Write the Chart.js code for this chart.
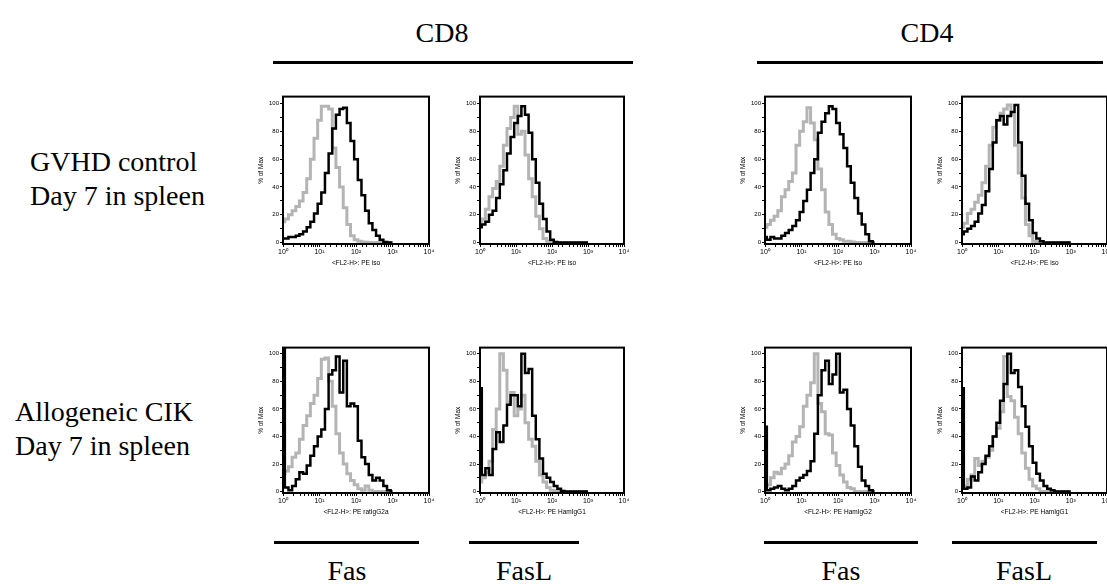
<!DOCTYPE html>
<html lang="en">
<head>
<meta charset="utf-8" />
<title>Fas / FasL on CD8 and CD4 cells</title>
<script src="https://cdn.jsdelivr.net/npm/chart.js@4/dist/chart.umd.min.js"></script>
<style>
  body { margin: 0; background: #fff; width: 1107px; height: 584px; overflow: hidden; position: relative;
         font-family: "Liberation Serif", "Times New Roman", serif; color: #000; }
  .lbl { position: absolute; font-size: 28px; line-height: 30px; white-space: nowrap; }
  .mid { transform: translateX(-50%); text-align: center; }
  .bar { position: absolute; height: 3px; background: #000; }
  canvas { position: absolute; }
</style>
</head>
<body>
  <div class="lbl mid" style="left:442px; top:18px">CD8</div>
  <div class="lbl mid" style="left:927px; top:18px">CD4</div>
  <div class="bar" style="left:273px; top:61px; width:360px"></div>
  <div class="bar" style="left:757px; top:61px; width:346px"></div>

  <div class="lbl" style="left:30px; top:145px; line-height:34px">GVHD control<br>Day 7 in spleen</div>
  <div class="lbl" style="left:15px; top:395px; line-height:34px">Allogeneic CIK<br>Day 7 in spleen</div>

  <div class="bar" style="left:274px; top:541px; width:145px"></div>
  <div class="bar" style="left:469px; top:541px; width:110px"></div>
  <div class="bar" style="left:764px; top:541px; width:154px"></div>
  <div class="bar" style="left:952px; top:541px; width:145px"></div>
  <div class="lbl mid" style="left:347px; top:556px">Fas</div>
  <div class="lbl mid" style="left:524px; top:556px">FasL</div>
  <div class="lbl mid" style="left:841px; top:556px">Fas</div>
  <div class="lbl mid" style="left:1024px; top:556px">FasL</div>

<script>
// fluorescence channel (FL2-H), 10 bins per decade
const binX = [1, 1.26, 1.58, 2, 2.51, 3.16, 3.98, 5.01, 6.31, 7.94,
  10, 12.6, 15.8, 20, 25.1, 31.6, 39.8, 50.1, 63.1, 79.4,
  100, 126, 158, 200, 251, 316, 398, 501, 631, 794, 1000]

// GVHD control, day 7 (gray = isotype, black = stain), % of max
const cd8FasCtrlIso  = [15, 17, 20, 23, 26, 30, 36, 46, 60, 75, 88, 98, 98, 96, 68, 54, 40, 25, 13, 5, 2, 1, 0.5, 0.3, 0, 0, 0, 0, 0, 0, 0]
const cd8FasCtrl     = [3, 3, 4, 4, 5, 6, 8, 11, 15, 21, 28, 36, 50, 64, 82, 92, 96, 97, 86, 73, 60, 45, 34, 23, 14, 9, 5, 2, 0.5, 0, 0]
const cd8FaslCtrlIso = [15, 17, 24, 33, 39, 44, 55, 70, 82, 90, 98, 78, 80, 63, 46, 33, 19, 10, 3, 1, 0, 0, 0, 0, 0, 0, 0, 0, 0, 0, 0]
const cd8FaslCtrl    = [11, 13, 15, 20, 23, 32, 42, 52, 64, 76, 86, 91, 98, 92, 79, 60, 43, 28, 17, 8, 2, 0.5, 0, 0, 0, 0, 0, 0, 0, 0, 0]
const cd4FasCtrlIso  = [11, 13, 16, 19, 23, 33, 38, 44, 50, 70, 80, 87, 97, 86, 74, 53, 38, 22, 13, 6, 3, 2, 1, 1, 0.5, 0, 0, 0, 0, 0, 0]
const cd4FasCtrl     = [4, 2, 4, 3, 3, 5, 7, 9, 12, 16, 22, 30, 38, 50, 60, 79, 87, 93, 98, 96, 86, 78, 68, 55, 43, 32, 21, 13, 6, 1, 0]
const cd4FaslCtrlIso = [11, 14, 21, 24, 29, 34, 43, 55, 70, 83, 88, 93, 96, 99, 92, 70, 50, 32, 13, 5, 1, 0, 0, 0, 0, 0, 0, 0, 0, 0, 0]
const cd4FaslCtrl    = [6, 8, 10, 12, 15, 21, 27, 37, 53, 72, 88, 91, 85, 91, 94, 99, 72, 48, 28, 16, 7, 3, 1, 0, 0, 0, 0, 0, 0, 0, 0]

// allogeneic CIK, day 7
const cd8FasCikIso  = [13, 15, 18, 25, 28, 38, 48, 55, 64, 70, 82, 96, 97, 80, 62, 42, 28, 20, 13, 8, 5, 2, 1, 4, 1, 0, 0, 0, 0, 0, 0]
const cd8FasCik     = [105, 3, 1, 4, 9, 14, 13, 19, 26, 33, 40, 45, 60, 85, 88, 98, 72, 95, 62, 64, 62, 37, 25, 20, 12, 8, 10, 8, 4, 1, 0]
const cd8FaslCikIso = [7, 10, 14, 22, 45, 60, 100, 88, 65, 72, 55, 60, 70, 50, 38, 33, 22, 12, 7, 3, 1, 0.5, 0, 0, 0, 0, 0, 0, 0, 0, 0]
const cd8FaslCik    = [75, 12, 17, 12, 31, 43, 36, 48, 63, 70, 70, 62, 100, 86, 89, 55, 38, 24, 13, 10, 7, 4, 2, 0.5, 0, 0, 0, 0, 0, 0, 0]
const cd4FasCikIso  = [4, 5, 10, 14, 13, 17, 20, 26, 36, 40, 47, 62, 70, 79, 100, 64, 58, 42, 41, 28, 19, 12, 7, 3, 2, 0, 0, 0, 0, 0, 0]
const cd4FasCik     = [47, 1, 2, 3, 4, 2, 1, 2, 4, 8, 10, 12, 15, 22, 42, 70, 88, 95, 78, 85, 100, 72, 74, 60, 48, 33, 18, 8, 4, 1, 0]
const cd4FaslCikIso = [4, 4, 9, 12, 24, 19, 22, 25, 30, 40, 46, 58, 98, 69, 66, 54, 42, 28, 17, 9, 4, 2, 0, 0, 0, 0, 0, 0, 0, 0, 0]
const cd4FaslCik    = [75, 2, 3, 11, 8, 14, 20, 26, 33, 40, 50, 66, 78, 100, 86, 88, 76, 62, 47, 33, 21, 13, 8, 4, 2, 1, 0, 0, 0, 0, 0]

const supDigits = ['\u2070', '\u00b9', '\u00b2', '\u00b3', '\u2074']
const yTicks = [0, 5, 10, 15, 20, 25, 30, 35, 40, 45, 50, 55, 60, 65, 70, 75, 80, 85, 90, 95, 100]
const yLabels = [0, 20, 40, 60, 80, 100]

const panels = [
  { row: 0, col: 0, iso: cd8FasCtrlIso,  stain: cd8FasCtrl,  title: '<FL2-H>: PE iso' },
  { row: 0, col: 1, iso: cd8FaslCtrlIso, stain: cd8FaslCtrl, title: '<FL2-H>: PE iso' },
  { row: 0, col: 2, iso: cd4FasCtrlIso,  stain: cd4FasCtrl,  title: '<FL2-H>: PE iso' },
  { row: 0, col: 3, iso: cd4FaslCtrlIso, stain: cd4FaslCtrl, title: '<FL2-H>: PE iso' },
  { row: 1, col: 0, iso: cd8FasCikIso,  stain: cd8FasCik,  title: '<FL2-H>: PE ratIgG2a' },
  { row: 1, col: 1, iso: cd8FaslCikIso, stain: cd8FaslCik, title: '<FL2-H>: PE HamIgG1' },
  { row: 1, col: 2, iso: cd4FasCikIso,  stain: cd4FasCik,  title: '<FL2-H>: PE HamIgG2' },
  { row: 1, col: 3, iso: cd4FaslCikIso, stain: cd4FaslCik, title: '<FL2-H>: PE HamIgG1' },
]

// plot-area boxes in page pixels
const cols = [{ x: 283, w: 146 }, { x: 480, w: 144 }, { x: 765, w: 146 }, { x: 962, w: 145 }]
const rows = [{ y: 96, h: 148, max: 105 }, { y: 347, h: 146, max: 104.5 }]
const AXIS_W = 26, AXIS_H = 24, PAD_T = 4, PAD_R = 8

const frame = {
  id: 'frame',
  afterDatasetsDraw(chart) {
    const a = chart.chartArea, ctx = chart.ctx
    ctx.save()
    ctx.strokeStyle = '#000'
    ctx.lineWidth = 2
    ctx.strokeRect(a.left, a.top, a.right - a.left, a.bottom - a.top)
    ctx.restore()
  },
}

Chart.defaults.font.family = '"Liberation Sans", Arial, sans-serif'
Chart.defaults.color = '#000'

const series = (arr) => binX.map((x, i) => ({ x, y: arr[i] }))

panels.forEach((p) => {
  const c = cols[p.col], r = rows[p.row]
  const cv = document.createElement('canvas')
  cv.width = AXIS_W + c.w + PAD_R
  cv.height = PAD_T + r.h + AXIS_H
  cv.style.left = (c.x - AXIS_W) + 'px'
  cv.style.top = (r.y - PAD_T) + 'px'
  document.body.appendChild(cv)

  new Chart(cv.getContext('2d'), {
    type: 'line',
    data: {
      datasets: [
        { data: series(p.stain), borderColor: '#000', borderWidth: 2.5, stepped: 'middle', pointRadius: 0, fill: false },
        { data: series(p.iso), borderColor: '#b4b4b4', borderWidth: 3, stepped: 'middle', pointRadius: 0, fill: false },
      ],
    },
    options: {
      responsive: false,
      animation: false,
      devicePixelRatio: 1,
      layout: { padding: { top: PAD_T, right: PAD_R, left: 0, bottom: 0 } },
      plugins: { legend: { display: false }, tooltip: { enabled: false } },
      scales: {
        x: {
          type: 'logarithmic',
          min: 1,
          max: 10000,
          afterFit: (s) => { s.height = AXIS_H },
          border: { display: false },
          grid: { drawOnChartArea: false, tickLength: 3, color: '#000' },
          ticks: {
            autoSkip: false,
            maxRotation: 0,
            padding: 1,
            font: { size: 7 },
            callback: (v) => {
              const e = Math.round(Math.log10(v))
              return Math.abs(Math.pow(10, e) - v) < 1e-6 ? '10' + supDigits[e] : ''
            },
          },
          title: { display: true, text: p.title, font: { size: 6.5 }, padding: { top: 0, bottom: 1 } },
        },
        y: {
          min: -1,
          max: r.max,
          afterFit: (s) => { s.width = AXIS_W },
          afterBuildTicks: (s) => { s.ticks = yTicks.map((v) => ({ value: v })) },
          border: { display: false },
          grid: { drawOnChartArea: false, tickLength: 3, color: '#000' },
          ticks: {
            padding: 1,
            font: { size: 6 },
            callback: (v) => (yLabels.includes(v) ? String(v) : ''),
          },
          title: { display: true, text: '% of Max', font: { size: 6.5 }, padding: 0 },
        },
      },
    },
    plugins: [frame],
  })
})
</script>
</body>
</html>
